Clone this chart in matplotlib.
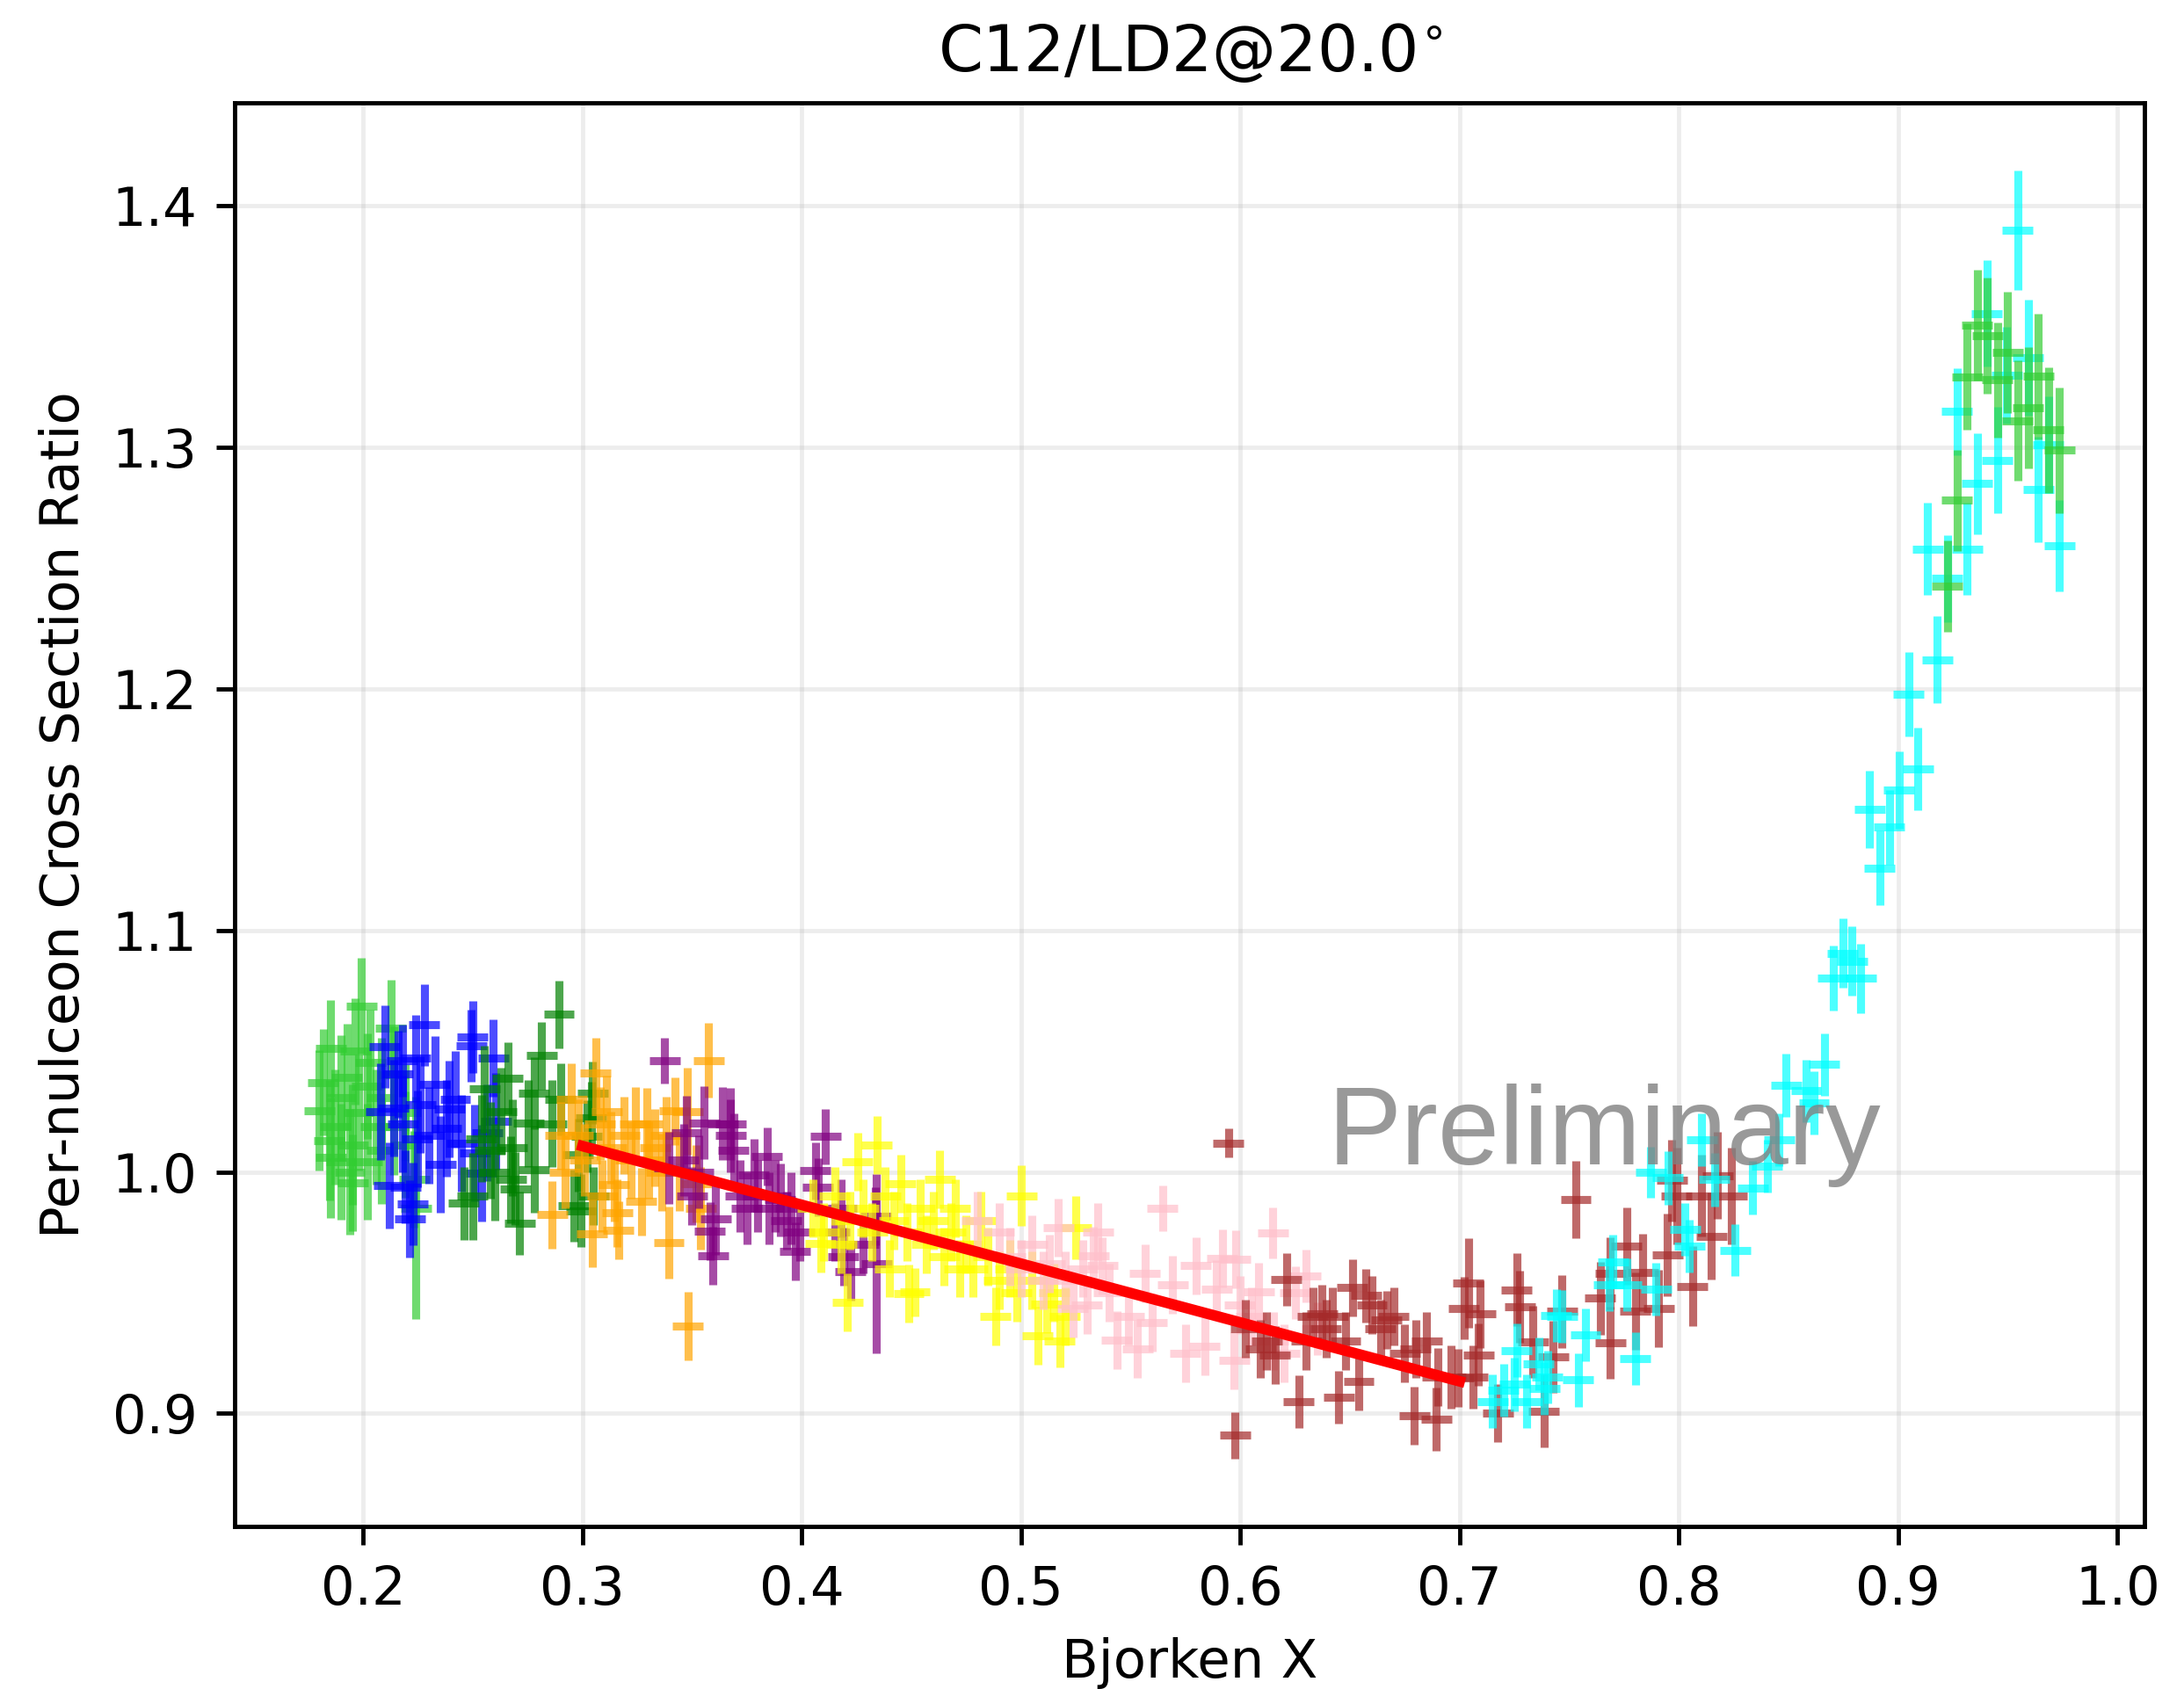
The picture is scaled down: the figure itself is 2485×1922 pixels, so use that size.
import matplotlib
matplotlib.use("Agg")
import matplotlib.pyplot as plt

# ---------------- data ----------------
lime1_x = [0.1800,0.1818,0.1845,0.1852,0.1852,0.1872,0.1899,0.1899,0.1925,0.1939,0.1952,0.1952,0.1965,0.1979,
           0.1992,0.2019,0.2019,0.2032,0.2059,0.2085,0.2085,0.2126,0.2139,0.2139,0.2192,0.2192,0.2232,0.2240]
lime1_y = [1.0255,1.0370,1.0131,1.0510,1.0059,1.0186,1.0307,1.0041,1.0392,1.0000,1.0113,0.9956,1.0500,1.0247,
           1.0688,1.0355,1.0041,1.0452,1.0186,1.0307,1.0089,1.0597,1.0186,1.0404,1.0113,1.0247,0.9968,0.9850]
lime1_e = [0.025,0.022,0.025,0.020,0.025,0.024,0.026,0.024,0.022,0.026,0.025,0.020,0.022,0.024,
           0.020,0.022,0.024,0.022,0.024,0.025,0.022,0.020,0.020,0.020,0.022,0.020,0.020,0.046]

blue_x = [0.2080,0.2099,0.2119,0.2139,0.2159,0.2179,0.2180,0.2192,0.2213,0.2226,0.2239,0.2246,0.2260,0.2279,
          0.2300,0.2326,0.2353,0.2380,0.2393,0.2420,0.2450,0.2493,0.2499,0.2510,0.2540,0.2566,0.2593,0.2606]
blue_y = [1.0250,1.0519,0.9944,1.0265,1.0405,1.0460,1.0200,0.9938,0.9804,0.9868,1.0470,1.0138,1.0280,1.0609,
          1.0150,1.0362,1.0030,1.0180,1.0259,1.0300,1.0120,1.0522,1.0559,1.0080,0.9995,1.0162,1.0470,1.0210]
blue_e = [0.020,0.017,0.018,0.020,0.018,0.015,0.020,0.015,0.016,0.017,0.018,0.020,0.020,0.017,
          0.020,0.020,0.020,0.020,0.020,0.020,0.020,0.015,0.015,0.020,0.020,0.020,0.016,0.020]

green_x = [0.2459,0.2499,0.2540,0.2553,0.2580,0.2600,0.2630,0.2660,0.2673,0.2680,0.2693,0.2713,0.2753,
           0.2780,0.2780,0.2813,0.2860,0.2893,0.2900,0.2960,0.2980,0.2993,0.3020,0.3040,0.3047,0.3050]
green_y = [0.9870,0.9900,1.0138,1.0343,1.0090,1.0000,1.0250,1.0388,0.9968,1.0100,0.9931,0.9787,1.0202,
           1.0325,1.0010,1.0481,1.0200,1.0653,1.0300,0.9860,1.0070,0.9840,1.0147,1.0224,1.0327,0.9900]
green_e = [0.015,0.018,0.018,0.018,0.020,0.020,0.018,0.015,0.018,0.020,0.015,0.013,0.018,
           0.015,0.018,0.014,0.018,0.014,0.015,0.015,0.015,0.015,0.015,0.015,0.013,0.012]

orange_x = [0.2861,0.2900,0.2920,0.2950,0.2980,0.3010,0.3044,0.3060,0.3080,0.3090,0.3110,0.3130,0.3145,0.3159,
            0.3165,0.3190,0.3220,0.3240,0.3268,0.3295,0.3300,0.3330,0.3360,0.3380,0.3394,0.3421,0.3440,0.3481,
            0.3480,0.3520,0.3540,0.3575]
orange_y = [0.9823,1.0150,1.0000,1.0300,1.0150,1.0050,0.9745,1.0410,1.0200,0.9900,1.0250,1.0100,0.9946,0.9830,
            0.9757,1.0150,1.0050,1.0200,0.9877,1.0198,1.0050,1.0100,1.0000,1.0150,0.9708,1.0253,1.0000,0.9360,
            1.0250,0.9950,0.9850,1.0462]
orange_e = [0.014,0.014,0.015,0.015,0.015,0.015,0.014,0.0145,0.015,0.015,0.015,0.015,0.015,0.014,
            0.012,0.016,0.016,0.015,0.014,0.015,0.016,0.016,0.016,0.016,0.015,0.014,0.016,0.0142,
            0.018,0.016,0.017,0.0155]

purple_x = [0.3374,0.3394,0.3460,0.3474,0.3500,0.3530,0.3555,0.3581,0.3595,0.3608,0.3640,0.3676,0.3676,0.3690,
            0.3720,0.3750,0.3781,0.3800,0.3842,0.3850,0.3880,0.3901,0.3930,0.3950,0.3969,0.3990,0.4062,0.4075,
            0.4109,0.4150,0.4180,0.4190,0.4222,0.4280,0.4336,0.4341]
purple_y = [1.0462,1.0017,1.0050,1.0164,0.9900,1.0000,1.0204,0.9753,0.9653,0.9805,1.0200,1.0198,1.0150,1.0091,
            0.9900,0.9850,0.9986,0.9900,1.0065,0.9850,0.9900,0.9884,0.9800,0.9850,0.9671,0.9750,1.0004,0.9938,
            1.0146,0.9750,0.9850,0.9650,0.9587,0.9700,0.9817,0.9620]
purple_e = [0.0095,0.015,0.015,0.015,0.012,0.015,0.015,0.012,0.012,0.015,0.015,0.015,0.015,0.015,
            0.015,0.015,0.015,0.015,0.012,0.015,0.015,0.015,0.012,0.015,0.012,0.012,0.012,0.012,
            0.0115,0.012,0.012,0.012,0.012,0.012,0.012,0.037]

yellow_x = [0.4050,0.4086,0.4100,0.4150,0.4180,0.4208,0.4220,0.4255,0.4280,0.4320,0.4342,0.4380,0.4400,0.4420,
            0.4450,0.4480,0.4488,0.4516,0.4540,0.4570,0.4600,0.4630,0.4650,0.4680,0.4700,0.4720,0.4750,0.4780,
            0.4816,0.4850,0.4883,0.4900,0.4950,0.4980,0.5003,0.5050,0.5077,0.5117,0.5150,0.5177,0.5200,0.5251]
yellow_y = [0.9850,0.9702,0.9750,0.9900,0.9700,0.9460,0.9800,1.0043,0.9850,0.9750,1.0110,0.9900,0.9600,0.9800,
            0.9950,0.9750,0.9496,0.9502,0.9850,0.9700,0.9800,0.9970,0.9650,0.9750,0.9850,0.9600,0.9700,0.9600,
            0.9798,0.9650,0.9400,0.9550,0.9600,0.9500,0.9901,0.9550,0.9320,0.9454,0.9500,0.9300,0.9400,0.9769]
yellow_e = [0.012,0.012,0.012,0.012,0.012,0.012,0.012,0.012,0.012,0.012,0.012,0.012,0.012,0.012,
            0.012,0.012,0.012,0.010,0.012,0.012,0.012,0.012,0.012,0.012,0.012,0.012,0.012,0.012,
            0.012,0.012,0.012,0.012,0.012,0.012,0.0125,0.012,0.012,0.012,0.012,0.011,0.012,0.013]

pink_x = [0.4800,0.4900,0.4950,0.5000,0.5050,0.5100,0.5130,0.5170,0.5200,0.5237,0.5280,0.5300,0.5331,0.5350,
          0.5371,0.5400,0.5437,0.5491,0.5531,0.5565,0.5598,0.5645,0.5691,0.5750,0.5798,0.5838,0.5891,0.5918,
          0.5972,0.5978,0.5998,0.6050,0.6085,0.6149,0.6150,0.6200,0.6250,0.6299,0.6350]
pink_y = [0.9800,0.9750,0.9650,0.9600,0.9700,0.9550,0.9620,0.9768,0.9550,0.9436,0.9600,0.9450,0.9653,0.9750,
          0.9611,0.9500,0.9302,0.9400,0.9266,0.9581,0.9375,0.9850,0.9532,0.9250,0.9611,0.9278,0.9515,0.9641,
          0.9218,0.9639,0.9448,0.9400,0.9502,0.9748,0.9300,0.9250,0.9500,0.9569,0.9350]
pink_e = [0.012,0.012,0.012,0.012,0.012,0.012,0.012,0.012,0.012,0.012,0.012,0.012,0.012,0.012,
          0.012,0.012,0.012,0.012,0.012,0.012,0.012,0.0095,0.012,0.012,0.012,0.012,0.012,0.012,
          0.012,0.012,0.012,0.012,0.012,0.0105,0.012,0.012,0.011,0.011,0.011]

brown_x = [0.5945,0.5976,0.6025,0.6092,0.6120,0.6158,0.6210,0.6266,0.6300,0.6330,0.6372,0.6390,0.6420,0.6449,
           0.6480,0.6510,0.6540,0.6573,0.6600,0.6640,0.6667,0.6700,0.6750,0.6793,0.6800,0.6850,0.6893,0.6900,
           0.6960,0.6994,0.7019,0.7040,0.7060,0.7087,0.7094,0.7174,0.7260,0.7274,0.7334,0.7384,0.7427,0.7467,
           0.7530,0.7641,0.7688,0.7688,0.7761,0.7801,0.7835,0.7908,0.7948,0.7968,0.7990,0.8062,0.8102,0.8149,
           0.8177,0.8240]
brown_y = [1.0120,0.8909,0.9352,0.9267,0.9300,0.9243,0.9554,0.9048,0.9300,0.9400,0.9412,0.9350,0.9400,0.9066,
           0.9300,0.9520,0.9133,0.9488,0.9450,0.9350,0.9388,0.9400,0.9250,0.8990,0.9267,0.9300,0.8976,0.9150,
           0.9150,0.9146,0.9436,0.9539,0.9150,0.9243,0.9412,0.9000,0.9512,0.9442,0.9297,0.9010,0.9235,0.9422,
           0.9885,0.9477,0.9581,0.9293,0.9692,0.9422,0.9584,0.9436,0.9657,0.9964,0.9900,0.9526,0.9902,0.9733,
           0.9985,0.9900]
brown_e = [0.006,0.0097,0.012,0.012,0.012,0.012,0.011,0.011,0.012,0.012,0.012,0.012,0.012,0.011,
           0.012,0.012,0.012,0.011,0.012,0.012,0.012,0.012,0.012,0.012,0.012,0.012,0.013,0.012,
           0.013,0.012,0.013,0.0185,0.013,0.013,0.014,0.012,0.015,0.015,0.015,0.015,0.015,0.015,
           0.016,0.015,0.015,0.015,0.016,0.016,0.016,0.016,0.017,0.017,0.020,0.0166,0.017,0.018,
           0.018,0.020]

cyan_x = [0.7150,0.7200,0.7250,0.7261,0.7307,0.7361,0.7387,0.7400,0.7441,0.7467,0.7541,0.7574,0.7681,0.7700,
          0.7761,0.7801,0.7872,0.7895,0.7949,0.8028,0.8048,0.8105,0.8162,0.8256,0.8336,0.8402,0.8456,0.8489,
          0.8580,0.8616,0.8663,0.8703,0.8747,0.8790,0.8830,0.8870,0.8916,0.8959,0.9003,0.9047,0.9090,0.9135,
          0.9179,0.9224,0.9268,0.9314,0.9361,0.9404,0.9452,0.9494,0.9544,0.9592,0.9639,0.9685,0.9735]
cyan_y = [0.9050,0.9097,0.9120,0.9261,0.9050,0.9206,0.9104,0.9150,0.9405,0.9401,0.9138,0.9325,0.9533,0.9629,
          0.9533,0.9228,0.9999,0.9515,0.9975,0.9761,0.9692,1.0134,0.9968,0.9675,0.9934,1.0024,1.0134,1.0359,
          1.0336,1.0286,1.0445,1.0802,1.0906,1.0873,1.0802,1.1503,1.1259,1.1427,1.1582,1.1978,1.1668,1.2580,
          1.2121,1.2457,1.3149,1.2580,1.2850,1.3554,1.2947,1.3300,1.3898,1.3373,1.2826,1.3011,1.2593]
cyan_e = [0.011,0.011,0.011,0.011,0.011,0.011,0.011,0.011,0.011,0.011,0.011,0.011,0.011,0.011,
          0.011,0.011,0.0105,0.011,0.011,0.011,0.011,0.011,0.011,0.0107,0.011,0.011,0.011,0.013,
          0.013,0.013,0.013,0.0135,0.0144,0.0144,0.0144,0.016,0.0154,0.0156,0.016,0.0173,0.017,0.019,
          0.018,0.018,0.018,0.019,0.021,0.022,0.022,0.020,0.0247,0.024,0.022,0.020,0.019]

lime2_x = [0.9224,0.9268,0.9314,0.9361,0.9407,0.9452,0.9498,0.9544,0.9592,0.9639,0.9685,0.9735]
lime2_y = [1.2426,1.2781,1.3292,1.3507,1.3462,1.3279,1.3393,1.3111,1.3164,1.3295,1.3072,1.2989]
lime2_e = [0.019,0.021,0.022,0.023,0.024,0.024,0.025,0.025,0.025,0.026,0.026,0.026]

x_half_width = 0.007

fit_x = [0.30, 0.70]
fit_y = [1.0107, 0.9133]

x_ticks = [0.2, 0.3, 0.4, 0.5, 0.6, 0.7, 0.8, 0.9, 1.0]
y_ticks = [0.9, 1.0, 1.1, 1.2, 1.3, 1.4]

series = [
    (lime1_x, lime1_y, lime1_e, "limegreen"),
    (blue_x, blue_y, blue_e, "blue"),
    (green_x, green_y, green_e, "green"),
    (orange_x, orange_y, orange_e, "orange"),
    (purple_x, purple_y, purple_e, "purple"),
    (yellow_x, yellow_y, yellow_e, "yellow"),
    (pink_x, pink_y, pink_e, "pink"),
    (brown_x, brown_y, brown_e, "brown"),
    (cyan_x, cyan_y, cyan_e, "cyan"),
    (lime2_x, lime2_y, lime2_e, "limegreen"),
]

# ---------------- figure ----------------
DPI = 438
W, H = 2485, 1922
fig = plt.figure(figsize=(W / DPI, H / DPI), dpi=DPI)
L, R, T, B = 267, 2440, 117, 1737
ax = fig.add_axes([L / W, (H - B) / H, (R - L) / W, (B - T) / H])

for xs, ys, es, c in series:
    ax.errorbar(xs, ys, xerr=x_half_width, yerr=es, fmt="none", ecolor=c,
                alpha=0.7, elinewidth=1.5, capsize=0, zorder=2)

ax.plot(fit_x, fit_y, color="red", lw=2.0, zorder=2.5)

ax.text(0.64, 1.003, "Preliminary", fontsize=20.7, color="gray", alpha=0.8,
        family="Liberation Sans", zorder=3)

ax.set_xlim(0.1414, 1.0123)
ax.set_ylim(0.8532, 1.4427)
ax.set_xticks(x_ticks)
ax.set_yticks(y_ticks)
ax.grid(alpha=0.22)

ax.set_title("C12/LD2@20.0$^{\\circ}$", fontsize=12)
ax.set_xlabel("Bjorken X")
ax.set_ylabel("Per-nulceon Cross Section Ratio")

fig.savefig("out.png", dpi=DPI)
